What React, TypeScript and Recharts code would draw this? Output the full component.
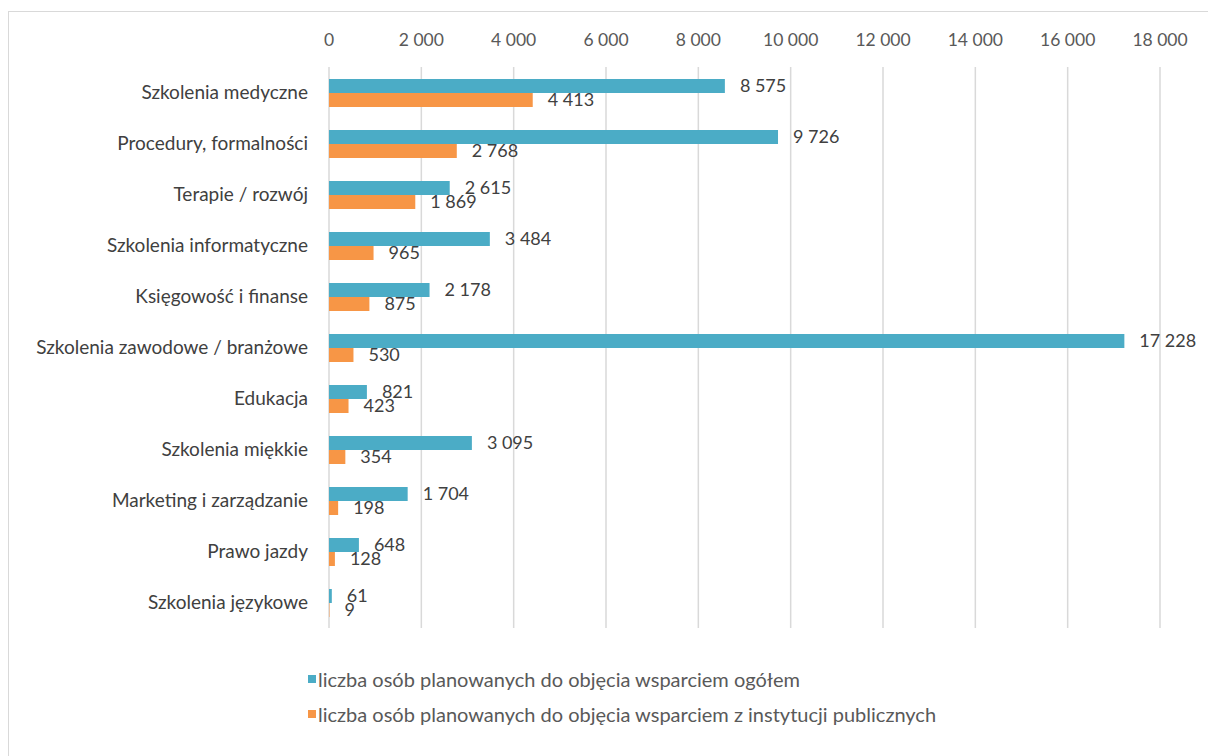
import { BarChart, Bar, XAxis, YAxis, CartesianGrid, Legend, LabelList } from 'recharts'

const categories = [
  'Szkolenia medyczne',
  'Procedury, formalności',
  'Terapie / rozwój',
  'Szkolenia informatyczne',
  'Księgowość i finanse',
  'Szkolenia zawodowe / branżowe',
  'Edukacja',
  'Szkolenia miękkie',
  'Marketing i zarządzanie',
  'Prawo jazdy',
  'Szkolenia językowe',
]
const totalValues = [8575, 9726, 2615, 3484, 2178, 17228, 821, 3095, 1704, 648, 61]
const publicValues = [4413, 2768, 1869, 965, 875, 530, 423, 354, 198, 128, 9]
const xTicks = [0, 2000, 4000, 6000, 8000, 10000, 12000, 14000, 16000, 18000]

const TOTAL_NAME = 'liczba osób planowanych do objęcia wsparciem ogółem'
const PUBLIC_NAME = 'liczba osób planowanych do objęcia wsparciem z instytucji publicznych'

const TEAL = '#4BACC6'
const ORANGE = '#F79646'
const FONT = 'Lato, "Open Sans", sans-serif'

const data = categories.map((name, i) => ({
  name,
  total: totalValues[i],
  public: publicValues[i],
}))

// 12345 -> "12 345"
const fmt = (v: number | string) =>
  String(v).replace(/\B(?=(\d{3})+(?!\d))/g, ' ')

function ChartLegend() {
  const items = [
    { label: TOTAL_NAME, color: TEAL },
    { label: PUBLIC_NAME, color: ORANGE },
  ]
  return (
    <div style={{ paddingLeft: 299, paddingTop: 33, paddingBottom: 5, fontFamily: FONT }}>
      {items.map(it => (
        <div key={it.label} style={{ height: 35, display: 'flex', alignItems: 'center', color: '#595959', fontSize: 20 }}>
          <span style={{ width: 8, height: 8, background: it.color, marginRight: 2, display: 'inline-block' }} />
          {it.label}
        </div>
      ))}
    </div>
  )
}

export default function App() {
  return (
    <div style={{ position: 'fixed', left: 0, top: 0, width: 1208, height: 756, overflow: 'hidden', background: '#fff' }}>
      <div style={{
        position: 'absolute', left: 8, top: 11, width: 1300, height: 800,
        borderLeft: '1px solid #d9d9d9', borderTop: '1px solid #d9d9d9',
      }}>
        <BarChart
          width={1199} height={744} data={data} layout="vertical"
          barSize={14} barGap={0}
          margin={{ top: 20, right: 48, left: 0, bottom: 20 }}
        >
          <CartesianGrid horizontal={false} stroke="#d9d9d9" strokeWidth={1.5} />
          <XAxis
            type="number" orientation="top" domain={[0, 18000]} ticks={xTicks}
            tickFormatter={fmt} height={35} axisLine={false} tickLine={false} tickMargin={15}
            tick={{ fill: '#595959', fontSize: 17.5, fontFamily: FONT }}
            interval={0}
          />
          <YAxis
            type="category" dataKey="name" width={320} axisLine={false} tickLine={false}
            tickMargin={15} interval={0}
            tick={{ fill: '#404040', fontSize: 19, fontFamily: FONT }}
          />
          <Legend verticalAlign="bottom" align="left" content={<ChartLegend />} />
          <Bar dataKey="total" name={TOTAL_NAME} fill={TEAL} isAnimationActive={false}>
            <LabelList dataKey="total" position="right" offset={15} formatter={fmt}
              style={{ fill: '#404040', fontSize: 18, fontFamily: FONT }} />
          </Bar>
          <Bar dataKey="public" name={PUBLIC_NAME} fill={ORANGE} isAnimationActive={false}>
            <LabelList dataKey="public" position="right" offset={15} formatter={fmt}
              style={{ fill: '#404040', fontSize: 18, fontFamily: FONT }} />
          </Bar>
        </BarChart>
      </div>
    </div>
  )
}
